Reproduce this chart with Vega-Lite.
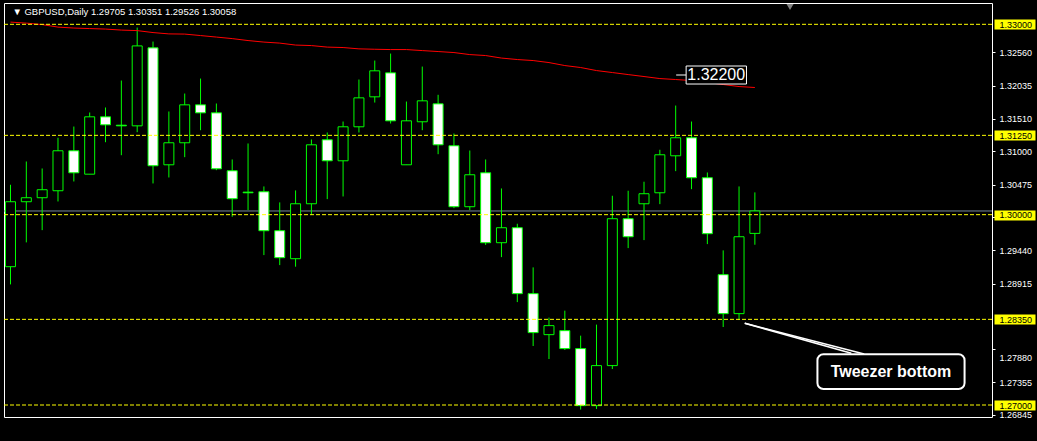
{
  "$schema": "https://vega.github.io/schema/vega-lite/v6.json",
  "width": 988,
  "height": 414,
  "autosize": {"type": "none"},
  "padding": {"left": 4, "top": 3, "right": 45, "bottom": 24},
  "background": "#000000",
  "view": {"stroke": "#ffffff", "strokeWidth": 1, "fill": "#000000"},
  "config": {
    "axis": {
      "labelFont": "Liberation Sans",
      "labelFontSize": 9,
      "labelColor": "#ffffff",
      "tickColor": "#ffffff",
      "domain": false,
      "grid": false,
      "title": null,
      "labelOverlap": false,
      "labelBound": false,
      "labelFlush": false
    }
  },
  "datasets": {
    "candles": [
      {"k": 0, "o": 1.29180, "h": 1.30471, "l": 1.28901, "c": 1.30204, "ma": 1.33035},
      {"k": 1, "o": 1.30204, "h": 1.30838, "l": 1.29563, "c": 1.30267, "ma": 1.33019},
      {"k": 2, "o": 1.30267, "h": 1.30728, "l": 1.29756, "c": 1.30393, "ma": 1.32996},
      {"k": 3, "o": 1.30377, "h": 1.31212, "l": 1.30208, "c": 1.31007, "ma": 1.32956},
      {"k": 4, "o": 1.31007, "h": 1.31389, "l": 1.30523, "c": 1.30660, "ma": 1.32941},
      {"k": 5, "o": 1.30638, "h": 1.31610, "l": 1.30638, "c": 1.31542, "ma": 1.32933},
      {"k": 6, "o": 1.31542, "h": 1.31689, "l": 1.31142, "c": 1.31416, "ma": 1.32925},
      {"k": 7, "o": 1.31410, "h": 1.32114, "l": 1.30937, "c": 1.31400, "ma": 1.32909},
      {"k": 8, "o": 1.31400, "h": 1.32949, "l": 1.31300, "c": 1.32660, "ma": 1.32901},
      {"k": 9, "o": 1.32629, "h": 1.32728, "l": 1.30492, "c": 1.30771, "ma": 1.32870},
      {"k": 10, "o": 1.30786, "h": 1.31626, "l": 1.30586, "c": 1.31133, "ma": 1.32849},
      {"k": 11, "o": 1.31133, "h": 1.31909, "l": 1.30906, "c": 1.31731, "ma": 1.32846},
      {"k": 12, "o": 1.31731, "h": 1.32145, "l": 1.31331, "c": 1.31605, "ma": 1.32823},
      {"k": 13, "o": 1.31605, "h": 1.31752, "l": 1.30701, "c": 1.30723, "ma": 1.32799},
      {"k": 14, "o": 1.30692, "h": 1.30870, "l": 1.29967, "c": 1.30251, "ma": 1.32775},
      {"k": 15, "o": 1.30355, "h": 1.31122, "l": 1.30071, "c": 1.30345, "ma": 1.32744},
      {"k": 16, "o": 1.30361, "h": 1.30445, "l": 1.29363, "c": 1.29747, "ma": 1.32720},
      {"k": 17, "o": 1.29747, "h": 1.30193, "l": 1.29205, "c": 1.29322, "ma": 1.32704},
      {"k": 18, "o": 1.29306, "h": 1.30382, "l": 1.29180, "c": 1.30172, "ma": 1.32673},
      {"k": 19, "o": 1.30172, "h": 1.31185, "l": 1.29999, "c": 1.31101, "ma": 1.32665},
      {"k": 20, "o": 1.31180, "h": 1.31295, "l": 1.30245, "c": 1.30849, "ma": 1.32641},
      {"k": 21, "o": 1.30849, "h": 1.31468, "l": 1.30287, "c": 1.31385, "ma": 1.32634},
      {"k": 22, "o": 1.31385, "h": 1.32130, "l": 1.31295, "c": 1.31841, "ma": 1.32613},
      {"k": 23, "o": 1.31857, "h": 1.32429, "l": 1.31767, "c": 1.32267, "ma": 1.32607},
      {"k": 24, "o": 1.32235, "h": 1.32539, "l": 1.31437, "c": 1.31479, "ma": 1.32602},
      {"k": 25, "o": 1.30786, "h": 1.31783, "l": 1.30786, "c": 1.31479, "ma": 1.32602},
      {"k": 26, "o": 1.31464, "h": 1.32334, "l": 1.31331, "c": 1.31794, "ma": 1.32586},
      {"k": 27, "o": 1.31747, "h": 1.31889, "l": 1.30953, "c": 1.31101, "ma": 1.32571},
      {"k": 28, "o": 1.31086, "h": 1.31279, "l": 1.30103, "c": 1.30125, "ma": 1.32555},
      {"k": 29, "o": 1.30125, "h": 1.31011, "l": 1.30071, "c": 1.30629, "ma": 1.32523},
      {"k": 30, "o": 1.30660, "h": 1.30870, "l": 1.29523, "c": 1.29558, "ma": 1.32508},
      {"k": 31, "o": 1.29558, "h": 1.30413, "l": 1.29331, "c": 1.29794, "ma": 1.32468},
      {"k": 32, "o": 1.29794, "h": 1.29857, "l": 1.28622, "c": 1.28755, "ma": 1.32445},
      {"k": 33, "o": 1.28755, "h": 1.29169, "l": 1.27930, "c": 1.28141, "ma": 1.32429},
      {"k": 34, "o": 1.28109, "h": 1.28377, "l": 1.27725, "c": 1.28251, "ma": 1.32397},
      {"k": 35, "o": 1.28172, "h": 1.28487, "l": 1.27867, "c": 1.27889, "ma": 1.32350},
      {"k": 36, "o": 1.27889, "h": 1.28093, "l": 1.26928, "c": 1.26990, "ma": 1.32319},
      {"k": 37, "o": 1.26990, "h": 1.28267, "l": 1.26938, "c": 1.27621, "ma": 1.32271},
      {"k": 38, "o": 1.27621, "h": 1.30298, "l": 1.27567, "c": 1.29936, "ma": 1.32240},
      {"k": 39, "o": 1.29936, "h": 1.30377, "l": 1.29473, "c": 1.29652, "ma": 1.32208},
      {"k": 40, "o": 1.30172, "h": 1.30519, "l": 1.29599, "c": 1.30330, "ma": 1.32177},
      {"k": 41, "o": 1.30345, "h": 1.31023, "l": 1.30166, "c": 1.30944, "ma": 1.32145},
      {"k": 42, "o": 1.30928, "h": 1.31720, "l": 1.30686, "c": 1.31212, "ma": 1.32130},
      {"k": 43, "o": 1.31212, "h": 1.31468, "l": 1.30402, "c": 1.30582, "ma": 1.32114},
      {"k": 44, "o": 1.30582, "h": 1.30665, "l": 1.29536, "c": 1.29700, "ma": 1.32082},
      {"k": 45, "o": 1.29054, "h": 1.29437, "l": 1.28229, "c": 1.28440, "ma": 1.32051},
      {"k": 46, "o": 1.28440, "h": 1.30445, "l": 1.28339, "c": 1.29652, "ma": 1.32019},
      {"k": 47, "o": 1.29705, "h": 1.30351, "l": 1.29526, "c": 1.30058, "ma": 1.32004}
    ],
    "levels": [
      {"level": 1.33000},
      {"level": 1.31250},
      {"level": 1.30000},
      {"level": 1.28350},
      {"level": 1.27000}
    ],
    "bid": [
      {"price": 1.30058}
    ],
    "one": [
      {}
    ]
  },
  "resolve": {"axis": {"y": "independent"}},
  "layer": [
    {
      "data": {"name": "bid"},
      "mark": {"type": "rule", "color": "#778899", "strokeWidth": 1},
      "encoding": {
        "y": {"field": "price", "type": "quantitative", "scale": {"domain": [1.26811, 1.33336], "nice": false, "zero": false}, "axis": null}
      }
    },
    {
      "data": {"name": "candles"},
      "mark": {"type": "rule", "color": "#00ff00", "strokeWidth": 1},
      "encoding": {
        "x": {
          "field": "k", "type": "quantitative",
          "scale": {"domain": [-0.09375, 61.65625], "nice": false, "zero": false},
          "axis": {
            "orient": "bottom",
            "values": [0, 4, 8, 12, 16, 20, 24, 28, 32, 36, 40, 44],
            "labelExpr": "['10 Sep 2018','14 Sep 2018','20 Sep 2018','26 Sep 2018','2 Oct 2018','8 Oct 2018','12 Oct 2018','18 Oct 2018','24 Oct 2018','30 Oct 2018','5 Nov 2018','9 Nov 2018'][round(datum.value/4)]",
            "labelAlign": "left",
            "labelBaseline": "top",
            "labelPadding": 3,
            "tickSize": 3
          }
        },
        "y": {
          "field": "l", "type": "quantitative",
          "scale": {"domain": [1.26811, 1.33336], "nice": false, "zero": false},
          "axis": {
            "orient": "right",
            "values": [1.3256, 1.32035, 1.3151, 1.31, 1.30475, 1.29965, 1.2944, 1.28915, 1.2788, 1.27355, 1.26845],
            "format": ".5f",
            "tickSize": 3,
            "labelPadding": 4,
            "labelBaseline": "middle",
            "labelOffset": {"condition": {"test": "abs(datum.value - 1.2788) < 0.00001", "value": 8}, "value": 0}
          }
        },
        "y2": {"field": "h"}
      }
    },
    {
      "data": {"name": "candles"},
      "mark": {"type": "bar", "orient": "vertical", "size": 10, "stroke": "#00ff00", "strokeWidth": 1},
      "encoding": {
        "x": {"field": "k", "type": "quantitative", "axis": null},
        "y": {"field": "o", "type": "quantitative", "axis": null},
        "y2": {"field": "c"},
        "fill": {"condition": {"test": "datum.c < datum.o", "value": "#ffffff"}, "value": "#000000"}
      }
    },
    {
      "data": {"name": "candles"},
      "mark": {"type": "line", "color": "#ff0000", "strokeWidth": 1},
      "encoding": {
        "x": {"field": "k", "type": "quantitative", "axis": null},
        "y": {"field": "ma", "type": "quantitative", "axis": null}
      }
    },
    {
      "data": {"name": "levels"},
      "mark": {"type": "rule", "color": "#ffff00", "strokeWidth": 1, "strokeDash": [4, 2]},
      "encoding": {
        "y": {
          "field": "level", "type": "quantitative",
          "axis": {
            "orient": "right",
            "values": [1.33, 1.3125, 1.3, 1.2835, 1.27],
            "format": ".5f",
            "offset": 2,
            "tickColor": "#ffff00",
            "tickSize": 41,
            "tickWidth": 10,
            "labelColor": "#000000",
            "labelPadding": -36,
            "labelBaseline": "middle",
            "zindex": 1
          }
        }
      }
    },
    {
      "data": {"name": "one"},
      "mark": {"type": "text", "text": "▼  GBPUSD,Daily  1.29705 1.30351 1.29526 1.30058", "color": "#ffffff", "font": "Liberation Sans", "fontSize": 9.5, "align": "left", "baseline": "middle"},
      "encoding": {
        "x": {"datum": 0.12, "type": "quantitative", "axis": null},
        "y": {"datum": 1.33194, "type": "quantitative", "axis": null}
      }
    },
    {
      "data": {"name": "one"},
      "mark": {"type": "rule", "color": "#ffffff", "strokeWidth": 1},
      "encoding": {
        "x": {"datum": 42.03, "type": "quantitative", "axis": null},
        "x2": {"datum": 42.66},
        "y": {"datum": 1.32201, "type": "quantitative", "axis": null}
      }
    },
    {
      "data": {"name": "one"},
      "mark": {"type": "rect", "fill": "#000000", "stroke": "#ffffff", "strokeWidth": 1},
      "encoding": {
        "x": {"datum": 42.66, "type": "quantitative", "axis": null},
        "x2": {"datum": 46.47},
        "y": {"datum": 1.32343, "type": "quantitative", "axis": null},
        "y2": {"datum": 1.32059}
      }
    },
    {
      "data": {"name": "one"},
      "mark": {"type": "text", "text": "1.32200", "color": "#ffffff", "font": "Liberation Sans", "fontSize": 16, "align": "center", "baseline": "middle"},
      "encoding": {
        "x": {"datum": 44.56, "type": "quantitative", "axis": null},
        "y": {"datum": 1.32201, "type": "quantitative", "axis": null}
      }
    },
    {
      "data": {"name": "one"},
      "mark": {"type": "rule", "color": "#ffffff", "strokeWidth": 1.5},
      "encoding": {
        "x": {"datum": 46.36, "type": "quantitative", "axis": null},
        "y": {"datum": 1.28288, "type": "quantitative", "axis": null},
        "x2": {"datum": 53.09},
        "y2": {"datum": 1.27815}
      }
    },
    {
      "data": {"name": "one"},
      "mark": {"type": "rule", "color": "#ffffff", "strokeWidth": 1.5},
      "encoding": {
        "x": {"datum": 46.36, "type": "quantitative", "axis": null},
        "y": {"datum": 1.28288, "type": "quantitative", "axis": null},
        "x2": {"datum": 53.9},
        "y2": {"datum": 1.27804}
      }
    },
    {
      "data": {"name": "one"},
      "mark": {"type": "rect", "fill": "#000000", "stroke": "#ffffff", "strokeWidth": 2, "cornerRadius": 6},
      "encoding": {
        "x": {"datum": 50.95, "type": "quantitative", "axis": null},
        "x2": {"datum": 60.24},
        "y": {"datum": 1.27799, "type": "quantitative", "axis": null},
        "y2": {"datum": 1.27252}
      }
    },
    {
      "data": {"name": "one"},
      "mark": {"type": "text", "text": "Tweezer bottom", "color": "#ffffff", "font": "Liberation Sans", "fontSize": 16, "fontWeight": "bold", "align": "center", "baseline": "middle"},
      "encoding": {
        "x": {"datum": 55.59, "type": "quantitative", "axis": null},
        "y": {"datum": 1.2752, "type": "quantitative", "axis": null}
      }
    },
    {
      "data": {"name": "one"},
      "mark": {"type": "point", "shape": "triangle-down", "filled": true, "color": "#808080", "size": 50, "opacity": 1},
      "encoding": {
        "x": {"datum": 49.22, "type": "quantitative", "axis": null},
        "y": {"datum": 1.33273, "type": "quantitative", "axis": null}
      }
    }
  ]
}
